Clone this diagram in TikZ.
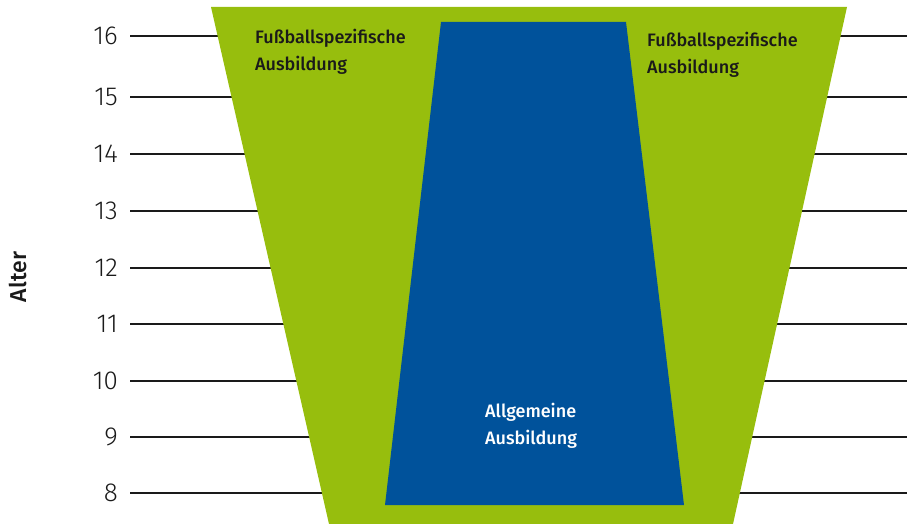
\documentclass[tikz,border=0pt]{standalone}
\usepackage{fontspec}
\setmainfont{Fira Sans}[BoldFont={Fira Sans Medium}]
\newfontfamily\lightfont{Fira Sans Light}
\definecolor{fgreen}{RGB}{151,190,13}
\definecolor{fblue}{RGB}{0,82,155}
\definecolor{fline}{RGB}{26,26,26}
\begin{document}
\begin{tikzpicture}[x=1pt,y=-1pt,
  agetick/.style={draw=fline,line width=2pt},
  agenum/.style={anchor=east,inner sep=0pt,font=\lightfont\fontsize{26}{26}\selectfont,text=fline},
  darklabel/.style={anchor=north west,inner sep=0pt,align=left,font=\bfseries\fontsize{18}{27}\selectfont,text=fline},
  lightlabel/.style={anchor=north west,inner sep=0pt,align=left,font=\bfseries\fontsize{18}{27}\selectfont,text=white}]
\useasboundingbox (0,0) rectangle (907,524);
% age lines
\foreach \a/\yy in {16/36,15/97,14/154,13/211,12/268,11/324,10/381,9/437,8/493}{
  \coordinate (l\a) at (130,\yy);
  \coordinate (r\a) at (907,\yy);
  \draw[agetick] (l\a) -- (r\a);
  \node[agenum] (n\a) at (118,\yy) {\a};
}
% green trapezoid
\fill[fgreen] (211,7) -- (847,7) -- (733,524) -- (329,524) -- cycle;
% blue trapezoid
\fill[fblue] (441,22) -- (626,22) -- (684,505) -- (385,505) -- cycle;
% labels
\node[darklabel] (fl) at (255,29) {Fußballspezifische\\Ausbildung};
\node[darklabel] (fr) at (647,32) {Fußballspezifische\\Ausbildung};
\node[lightlabel] (ag) at (485,403) {Allgemeine\\Ausbildung};
\node[rotate=90,inner sep=0pt,font=\bfseries\fontsize{23}{23}\selectfont,text=fline] (alter) at (18,277) {Alter};
\end{tikzpicture}
\end{document}
